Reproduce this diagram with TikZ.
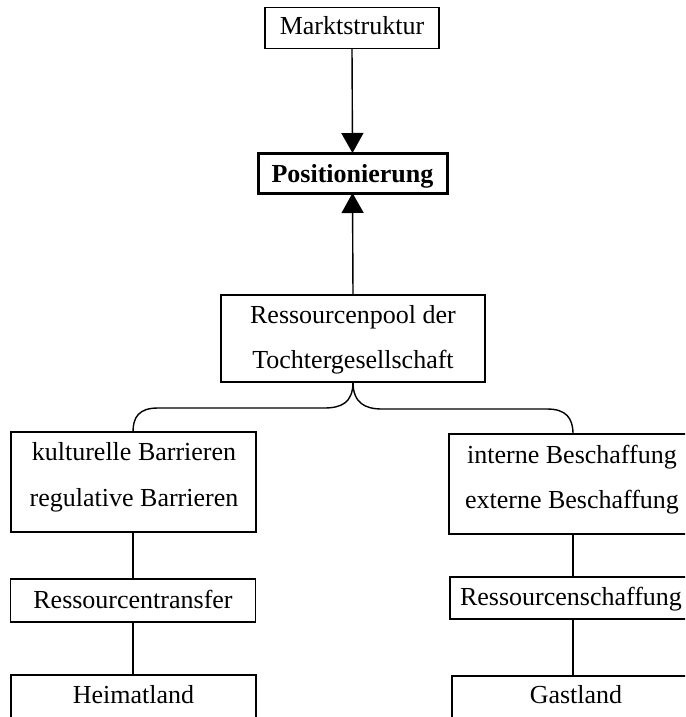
\documentclass[tikz,border=0pt]{standalone}
\usepackage{fontspec}
\setmainfont{Liberation Serif}
\usetikzlibrary{arrows.meta}

\begin{document}
\begin{tikzpicture}[x=1pt,y=-1pt,
  box/.style={draw=black, line width=1.4pt, rectangle, inner sep=0pt, outer sep=0pt},
  keybox/.style={draw=black, line width=3pt, rectangle, inner sep=0pt, outer sep=0pt},
  txt/.style={anchor=base, inner sep=0pt, font=\fontsize{26}{30}\selectfont},
  link/.style={line width=1.4pt},
  flow/.style={line width=1.4pt, -{Triangle[width=22pt,length=20pt]}}
]
\useasboundingbox (0,0) rectangle (685,717);
\clip (0,0) rectangle (685,717);

% frames
\node[box, minimum width=174pt, minimum height=41pt] (markt) at (352,28) {};
\node[keybox, minimum width=189pt, minimum height=40pt] (pos) at (352.5,173) {};
\node[box, minimum width=264pt, minimum height=87pt] (pool) at (353,338.5) {};
\node[box, minimum width=245pt, minimum height=100pt] (barr) at (133.5,482) {};
\node[box, minimum width=245pt, minimum height=43pt] (transfer) at (133,600.5) {};
\node[box, minimum width=245pt, minimum height=47pt] (heimat) at (133.5,698.5) {};
\node[box, minimum width=246pt, minimum height=100pt] (beschaff) at (572,484) {};
\node[box, minimum width=244pt, minimum height=42pt] (schaff) at (572,598) {};
\node[box, minimum width=246pt, minimum height=46pt] (gast) at (575,699) {};

% labels
\node[txt] (tmarkt) at (352,35) {Marktstruktur};
\node[txt] (tpos) at (352.5,182) {\bfseries Positionierung};
\node[txt] (tpool1) at (353,323) {Ressourcenpool der};
\node[txt] (tpool2) at (353,368) {Tochtergesellschaft};
\node[txt] (tbarr1) at (134,460) {kulturelle Barrieren};
\node[txt] (tbarr2) at (134,506) {regulative Barrieren};
\node[txt] (ttransfer) at (133,608) {Ressourcentransfer};
\node[txt] (theimat) at (133.5,703) {Heimatland};
\node[txt] (tbeschaff1) at (572,463) {interne Beschaffung};
\node[txt] (tbeschaff2) at (572,508) {externe Beschaffung};
\node[txt] (tschaff) at (571,605) {Ressourcenschaffung};
\node[txt] (tgast) at (576,703) {Gastland};

% arrows into the positioning box
\draw[flow] (markt.south) -- (pos.north);
\draw[flow] (pool.north) -- (pos.south);

% brace below the resource pool
\draw[link] (pool.south) .. controls (353,403) and (341,408) .. (324,408)
  -- (158,408) .. controls (139,408) and (133,417) .. (barr.north -| 133,0);
\draw[link] (pool.south) .. controls (353,403) and (365,409) .. (382,409)
  -- (547,409) .. controls (566,409) and (573,418) .. (beschaff.north -| 573,0);

% vertical chains
\draw[link] (barr.south -| 133,0) -- (transfer.north -| 133,0);
\draw[link] (transfer.south -| 133,0) -- (heimat.north -| 133,0);
\draw[link] (beschaff.south -| 573,0) -- (schaff.north -| 573,0);
\draw[link] (schaff.south -| 573,0) -- (gast.north -| 573,0);
\end{tikzpicture}
\end{document}
